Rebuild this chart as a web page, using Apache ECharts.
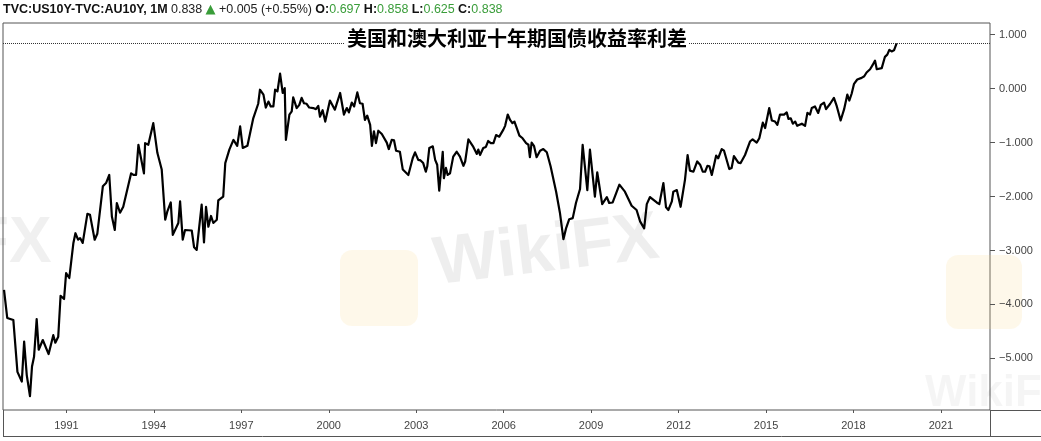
<!DOCTYPE html>
<html><head><meta charset="utf-8">
<script src="https://cdn.jsdelivr.net/npm/echarts@6/dist/echarts.min.js"></script>
<style>html,body{margin:0;padding:0;background:#fff}#c{width:1041px;height:441px}</style>
</head><body><div id="c"></div>
<script>
// [decimal year, US10Y - AU10Y spread]
const spread1989to1998 = [
[1988.86,-3.73],[1988.97,-4.25],[1989.18,-4.29],[1989.32,-5.25],[1989.47,-5.43],[1989.55,-4.69],[1989.64,-5.31],[1989.75,-5.70],[1989.82,-5.15],[1989.89,-4.97],
[1989.98,-4.27],[1990.05,-4.84],[1990.19,-4.66],[1990.39,-4.92],[1990.55,-4.57],[1990.62,-4.71],[1990.72,-4.60],[1990.80,-3.84],[1990.92,-3.90],[1990.99,-3.42],
[1991.10,-3.51],[1991.24,-2.86],[1991.31,-2.68],[1991.40,-2.80],[1991.47,-2.77],[1991.56,-2.86],[1991.72,-2.32],[1991.81,-2.34],[1991.97,-2.80],[1992.06,-2.69],
[1992.25,-1.81],[1992.36,-1.75],[1992.47,-1.60],[1992.56,-2.37],[1992.66,-2.62],[1992.73,-2.12],[1992.84,-2.30],[1992.95,-2.19],[1993.22,-1.57],[1993.30,-1.60],
[1993.39,-1.60],[1993.47,-1.04],[1993.66,-1.57],[1993.70,-1.01],[1993.81,-1.04],[1993.98,-0.64],[1994.12,-1.19],[1994.27,-1.50],[1994.39,-2.43],[1994.46,-2.28],
[1994.58,-2.11],[1994.65,-2.71],[1994.84,-2.49],[1994.90,-2.09],[1994.99,-2.80],[1995.07,-2.62],[1995.30,-2.63],[1995.38,-2.94],[1995.47,-2.99],[1995.64,-2.15],
[1995.72,-2.85],[1995.79,-2.19],[1995.87,-2.56],[1995.96,-2.36],[1996.04,-2.49],[1996.16,-2.43],[1996.21,-2.07],[1996.38,-2.00],[1996.45,-1.38],[1996.59,-1.13],
[1996.73,-0.95],[1996.86,-1.06],[1996.96,-0.70],[1997.05,-1.10],[1997.21,-1.06],[1997.41,-0.55],[1997.58,-0.28],[1997.64,-0.02],[1997.76,-0.11],[1997.84,-0.35],
[1997.93,-0.24],[1998.01,-0.33],[1998.10,-0.33],[1998.16,-0.02],[1998.24,-0.05],[1998.33,0.28]
];
const spread1998to2008 = [
[1998.42,-0.08],[1998.49,0.01],[1998.53,-0.95],[1998.65,-0.48],[1998.73,-0.42],[1998.78,-0.16],[1998.90,-0.36],[1998.99,-0.30],[1999.07,-0.17],[1999.15,-0.27],
[1999.24,-0.28],[1999.33,-0.35],[1999.47,-0.36],[1999.56,-0.38],[1999.64,-0.32],[1999.70,-0.52],[1999.79,-0.40],[1999.88,-0.61],[2000.04,-0.22],[2000.21,-0.39],
[2000.39,-0.08],[2000.52,-0.48],[2000.62,-0.36],[2000.69,-0.44],[2000.79,-0.26],[2000.87,-0.33],[2000.98,-0.07],[2001.07,-0.27],[2001.16,-0.28],[2001.24,-0.58],
[2001.32,-0.50],[2001.42,-0.67],[2001.48,-1.06],[2001.55,-0.79],[2001.62,-1.01],[2001.70,-0.78],[2001.82,-0.84],[2001.99,-1.00],[2002.06,-1.12],[2002.16,-0.95],
[2002.24,-0.96],[2002.31,-1.15],[2002.44,-1.17],[2002.54,-1.50],[2002.73,-1.60],[2002.79,-1.61],[2002.88,-1.29],[2002.96,-1.18],[2003.07,-1.32],[2003.15,-1.33],
[2003.24,-1.38],[2003.33,-1.54],[2003.38,-1.44],[2003.45,-1.10],[2003.57,-1.07],[2003.65,-1.32],[2003.72,-1.41],[2003.79,-1.89],[2003.91,-1.17],[2003.95,-1.66],
[2004.02,-1.47],[2004.08,-1.60],[2004.16,-1.57],[2004.27,-1.26],[2004.39,-1.17],[2004.50,-1.26],[2004.62,-1.43],[2004.68,-1.35],[2004.79,-0.94],[2004.96,-1.08],
[2005.08,-1.21],[2005.13,-1.13],[2005.19,-1.23],[2005.30,-1.10],[2005.39,-1.08],[2005.47,-0.97],[2005.56,-1.01],[2005.65,-1.01],[2005.74,-0.86],[2005.85,-0.89],
[2005.99,-0.76],[2006.05,-0.69],[2006.14,-0.48],[2006.22,-0.58],[2006.30,-0.64],[2006.37,-0.61],[2006.45,-0.73],[2006.54,-0.87],[2006.65,-0.92],[2006.77,-1.01],
[2006.85,-1.04],[2006.90,-1.27],[2006.96,-1.00],[2007.04,-1.06],[2007.13,-1.27],[2007.25,-1.15],[2007.36,-1.12],[2007.48,-1.18],[2007.61,-1.44],[2007.80,-1.91],
[2007.93,-2.30],[2008.05,-2.79],[2008.14,-2.59],[2008.25,-2.42],[2008.37,-2.40],[2008.48,-2.12],[2008.62,-1.86]
];
const spread2008to2012 = [
[2008.71,-1.04],[2008.87,-1.88],[2008.96,-1.13],[2009.13,-2.00],[2009.21,-1.55],[2009.38,-2.14],[2009.54,-2.01],[2009.62,-2.12],[2009.74,-2.11],[2009.97,-1.78],
[2010.16,-1.91],[2010.39,-2.17],[2010.56,-2.25],[2010.68,-2.46],[2010.82,-2.59],[2010.91,-2.14],[2011.02,-2.01],[2011.25,-2.11],[2011.34,-2.14],[2011.48,-1.75],
[2011.57,-2.20],[2011.65,-2.25],[2011.77,-2.09],[2011.82,-1.91],[2011.94,-1.88],[2012.07,-2.19],[2012.22,-1.69],[2012.31,-1.23],[2012.39,-1.52],[2012.51,-1.54],
[2012.64,-1.35]
];
const spread2012to2019 = [
[2012.74,-1.41],[2012.83,-1.54],[2012.91,-1.54],[2012.99,-1.43],[2013.06,-1.44],[2013.14,-1.60],[2013.29,-1.24],[2013.36,-1.29],[2013.48,-1.12],[2013.56,-1.15],
[2013.74,-1.49],[2013.82,-1.47],[2013.90,-1.25],[2014.05,-1.37],[2014.13,-1.38],[2014.28,-1.23],[2014.45,-0.98],[2014.54,-0.94],[2014.68,-1.00],[2014.77,-0.92],
[2014.89,-0.63],[2014.97,-0.73],[2015.11,-0.36],[2015.20,-0.59],[2015.31,-0.61],[2015.39,-0.67],[2015.48,-0.48],[2015.62,-0.48],[2015.71,-0.44],[2015.77,-0.56],
[2015.85,-0.55],[2015.92,-0.65],[2016.00,-0.61],[2016.07,-0.69],[2016.23,-0.65],[2016.34,-0.69],[2016.42,-0.45],[2016.51,-0.48],[2016.57,-0.36],[2016.68,-0.33],
[2016.79,-0.45],[2016.88,-0.30],[2016.99,-0.26],[2017.06,-0.38],[2017.20,-0.28],[2017.33,-0.17],[2017.43,-0.33],[2017.56,-0.59],[2017.68,-0.38],[2017.79,-0.11],
[2017.86,-0.22],[2017.94,-0.09],[2018.02,0.09],[2018.13,0.17],[2018.28,0.20],[2018.37,0.23],[2018.45,0.30],[2018.57,0.36],[2018.66,0.44],[2018.74,0.52],
[2018.80,0.36],[2018.97,0.38],[2019.08,0.59],[2019.16,0.63],[2019.23,0.72],[2019.31,0.69],[2019.39,0.71],[2019.48,0.838]
];
const xTicks = [1991, 1994, 1997, 2000, 2003, 2006, 2009, 2012, 2015, 2018, 2021];
const yTicks = [1, 0, -1, -2, -3, -4, -5];
const lastClose = 0.838;
const headerQuote = {symbol: 'TVC:US10Y-TVC:AU10Y, 1M', last: '0.838', change: '+0.005 (+0.55%)', o: '0.697', h: '0.858', l: '0.625', c: '0.838'};
const chartTitle = '美国和澳大利亚十年期国债收益率利差';

const data = spread1989to1998.concat(spread1998to2008, spread2008to2012, spread2012to2019);
const chart = echarts.init(document.getElementById('c'));
const GREEN = '#3a9d3a', FRAME = '#555';
const lab = {color: '#444', fontSize: 11, fontFamily: '"Liberation Sans", Arial, sans-serif'};
const hf = '"Liberation Sans", Arial, sans-serif';

chart.setOption({
  animation: false,
  backgroundColor: '#fff',
  grid: {left: 3, right: 51, top: 23, bottom: 31, show: true, borderColor: FRAME, borderWidth: 1, backgroundColor: 'transparent'},
  xAxis: {
    type: 'value', min: 1988.825, max: 2022.684, position: 'bottom',
    axisLine: {show: false, onZero: false}, splitLine: {show: false},
    axisTick: {show: true, customValues: xTicks, length: 3, lineStyle: {color: FRAME}},
    axisLabel: Object.assign({customValues: xTicks, margin: 10, formatter: v => String(v)}, lab)
  },
  yAxis: {
    type: 'value', position: 'right', min: -5.957, max: 1.217,
    axisLine: {show: false, onZero: false}, splitLine: {show: false},
    axisTick: {show: true, customValues: yTicks, length: 5, lineStyle: {color: FRAME}},
    axisLabel: Object.assign({customValues: yTicks, margin: 9, formatter: v => (v < 0 ? '−' : '') + Math.abs(v).toFixed(3)}, lab)
  },
  series: [{
    type: 'line', data: data, showSymbol: false, symbol: 'none', z: 3,
    lineStyle: {color: '#000', width: 2.2, join: 'round'},
    markLine: {symbol: 'none', silent: true, label: {show: false},
      lineStyle: {type: 'dotted', color: '#333', width: 1},
      data: [{yAxis: lastClose}]}
  }],
  graphic: [
    // faint watermarks
    {type: 'text', x: -30, y: 212, z: 0, style: {text: 'FX', font: 'bold 64px "Liberation Sans", Arial', fill: 'rgba(0,0,0,0.06)'}},
    {type: 'rect', shape: {x: 340, y: 250, width: 78, height: 76, r: 12}, z: 0, style: {fill: 'rgba(250,215,140,0.18)'}},
    {type: 'text', x: 430, y: 232, rotation: 0.12, z: 0, style: {text: 'WikiFX', font: 'bold 68px "Liberation Sans", Arial', fill: 'rgba(0,0,0,0.065)'}},
    {type: 'rect', shape: {x: 946, y: 255, width: 76, height: 74, r: 12}, z: 0, style: {fill: 'rgba(250,215,140,0.18)'}},
    {type: 'text', x: 925, y: 372, z: 0, style: {text: 'WikiFX', font: 'bold 44px "Liberation Sans", Arial', fill: 'rgba(0,0,0,0.04)'}},
    // frame extensions
    {type: 'line', z: 5, shape: {x1: 990, y1: 410.5, x2: 1041, y2: 410.5}, style: {stroke: FRAME, lineWidth: 1}},
    {type: 'line', z: 5, shape: {x1: 3, y1: 436.5, x2: 1041, y2: 436.5}, style: {stroke: FRAME, lineWidth: 1}},
    {type: 'line', z: 5, shape: {x1: 3.5, y1: 410, x2: 3.5, y2: 437}, style: {stroke: FRAME, lineWidth: 1}},
    {type: 'line', z: 5, shape: {x1: 990.5, y1: 410, x2: 990.5, y2: 437}, style: {stroke: FRAME, lineWidth: 1}},
    // header
    {type: 'text', x: 3, y: 10, z: 10, style: {
      text: '{b|' + headerQuote.symbol + '} {n|' + headerQuote.last + '} {g|▲} {n|' + headerQuote.change + '} {b|O:}{gt|' + headerQuote.o + '} {b|H:}{gt|' + headerQuote.h + '} {b|L:}{gt|' + headerQuote.l + '} {b|C:}{gt|' + headerQuote.c + '}',
      verticalAlign: 'middle',
      rich: {
        b: {fontWeight: 'bold', fontSize: 12.5, fill: '#111', fontFamily: hf},
        n: {fontSize: 12.5, fill: '#222', fontFamily: hf},
        g: {fontSize: 13, fill: GREEN, fontFamily: '"DejaVu Sans", sans-serif'},
        gt: {fontSize: 12.5, fill: GREEN, fontFamily: hf}
      }
    }},
    // title
    {type: 'text', x: 517, y: 38, z: 10, style: {
      text: chartTitle, align: 'center', verticalAlign: 'middle',
      font: 'bold 20px "Noto Sans CJK SC", sans-serif', fill: '#000',
      backgroundColor: '#fff', padding: [0, 2]
    }}
  ]
});
</script>
</body></html>
